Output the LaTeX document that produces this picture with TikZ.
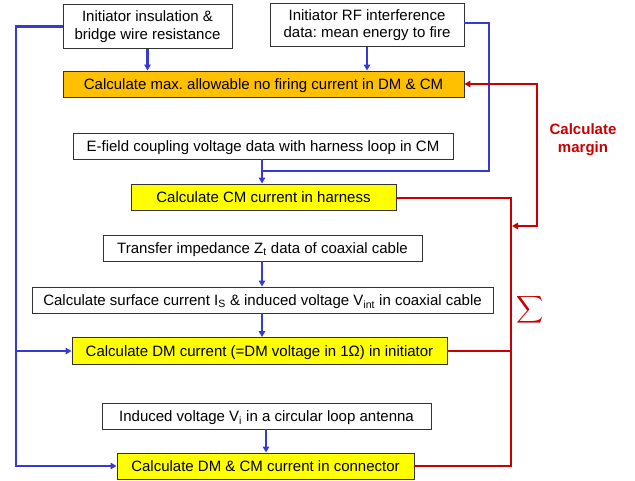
\documentclass[tikz,border=0pt]{standalone}
\usepackage{fontspec}
\setmainfont{Liberation Sans}
\usetikzlibrary{arrows.meta}
\definecolor{boxorange}{HTML}{FFC000}
\definecolor{boxyellow}{HTML}{FFFF00}
\definecolor{lineblue}{RGB}{56,56,210}
\definecolor{linered}{RGB}{200,0,0}
\frenchspacing
\begin{document}
\begin{tikzpicture}[x=1pt,y=-1pt,
  box/.style={draw=black!80, line width=0.9pt, inner sep=0pt, align=center,
    font=\fontsize{15}{17.5}\selectfont, text=black},
  one/.style={box, text height=10.8pt, text depth=0pt, minimum height=26pt},
  calc/.style={one, fill=boxyellow},
  blu/.style={draw=lineblue, line width=2.2pt},
  red/.style={draw=linered, line width=2.2pt},
  tip/.style={-{Triangle[length=6pt,width=6.5pt]}}
]
\useasboundingbox (0,0) rectangle (635,481);
\node[box, minimum width=169pt, minimum height=44pt] (b1) at (147.5,26.5) {Initiator insulation \&\\bridge wire resistance};
\node[box, minimum width=194pt, minimum height=43pt] (b2) at (367,25) {Initiator RF interference\\data: mean energy to fire};
\node[one, fill=boxorange, minimum width=401pt] (b3) at (263.5,84) {Calculate max. allowable no firing current in DM \& CM};
\node[one, minimum width=380pt] (b4) at (263,146) {E-field coupling voltage data with harness loop in CM};
\node[calc, minimum width=265pt] (b5) at (263.5,197) {Calculate CM current in harness};
\node[one, minimum width=319pt] (b6) at (262.5,248) {Transfer impedance Z\textsubscript{t} data of coaxial cable};
\node[one, minimum width=461pt] (b7) at (262.5,300) {Calculate surface current I\textsubscript{S} \& induced voltage V\textsubscript{int} in coaxial cable};
\node[calc, minimum width=375pt, minimum height=27pt] (b8) at (259.5,351) {Calculate DM current (=DM voltage in 1Ω) in initiator};
\node[one, minimum width=329pt] (b9) at (266.5,416) {Induced voltage V\textsubscript{i} in a circular loop antenna};
\node[calc, minimum width=297pt] (b10) at (265.5,466) {Calculate DM \& CM current in connector};

\coordinate (rx) at (511,0);

% blue connectors
\draw[blu, tip] (b1.south) -- (b3.north -| b1.south);
\draw[blu, tip] (b2.south) -- (b3.north -| b2.south);
\draw[blu, tip] (b4.south -| 262,0) -- (b5.north -| 262,0);
\draw[blu, tip] (b6.south -| 262,0) -- (b7.north -| 262,0);
\draw[blu, tip] (b7.south -| 262,0) -- (b8.north -| 262,0);
\draw[blu, tip] (b9.south -| 266,0) -- (b10.north -| 266,0);
\draw[blu] (b2.east |- 0,23) -- (489,23) -- (489,171) -- (262,171);
\draw[blu, tip] (b1.west) -| (16,300) |- (b10.west);
\draw[blu, tip] (16,351) -- (b8.west);

% red connectors
\draw[red] ([yshift=-1pt]b5.east) -| (rx |- b10.east) -- (b10.east);
\draw[red] (b8.east) -- (rx |- b8.east);
\draw[red, {Triangle[length=6pt,width=6.5pt]}-{Triangle[length=6pt,width=6.5pt]}] (b3.east) -| (537,226) -- (512,226);

\node[text=linered, font=\fontsize{15}{18}\selectfont\bfseries, align=center] (margin) at (583,140) {Calculate\\margin};
\node[text=linered, inner sep=0pt] (sum) at (530,310) {\scalebox{1.9}{$\displaystyle\sum$}};
\end{tikzpicture}
\end{document}
